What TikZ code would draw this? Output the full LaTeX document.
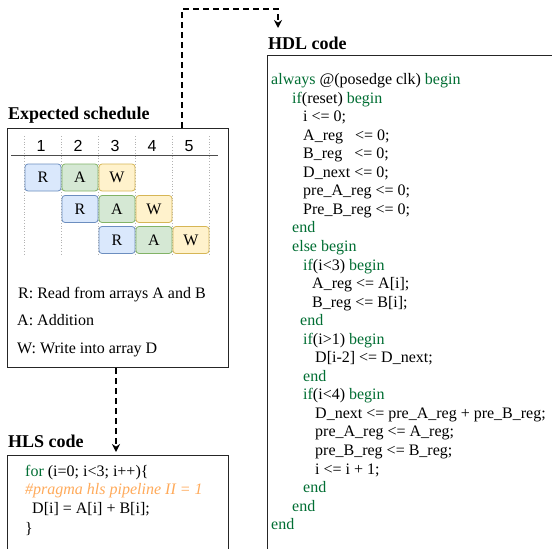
\documentclass[tikz,border=0pt]{standalone}
\usepackage{fontspec}
\setmainfont{Liberation Serif}
\newfontfamily\numfont{Liberation Sans}
\usetikzlibrary{arrows.meta,calc}
\definecolor{hdlgreen}{RGB}{0,110,51}
\definecolor{pragmaorange}{RGB}{255,170,90}
\definecolor{rfill}{HTML}{DAE8FC}\definecolor{rdraw}{HTML}{6C8EBF}
\definecolor{afill}{HTML}{D5E8D4}\definecolor{adraw}{HTML}{82B366}
\definecolor{wfill}{HTML}{FFF2CC}\definecolor{wdraw}{HTML}{D6B656}
\newcommand{\kw}[1]{\textcolor{hdlgreen}{#1}}
\begin{document}
\begin{tikzpicture}[x=1pt,y=-1pt,
  panel/.style={draw=black!85, line width=1pt, fill=white, anchor=north west, inner sep=0pt},
  title/.style={font=\fontsize{18}{20}\selectfont\bfseries, anchor=west, inner sep=0pt},
  code/.style={font=\fontsize{16}{18.5}\selectfont, anchor=base west, inner sep=0pt},
  cell/.style={rounded corners=3pt, line width=0.8pt, minimum width=36pt, minimum height=27pt, font=\fontsize{16}{18}\selectfont, inner sep=0pt},
  rcell/.style={cell, fill=rfill, draw=rdraw},
  acell/.style={cell, fill=afill, draw=adraw},
  wcell/.style={cell, fill=wfill, draw=wdraw},
  colnum/.style={font=\numfont\fontsize{16}{18}\selectfont, inner sep=0pt},
  gridline/.style={draw=black!30, dotted, line width=0.8pt},
  dasharrow/.style={line width=2pt, dash pattern=on 6pt off 4pt, -{Stealth[length=8pt,width=8pt]}}
]
\useasboundingbox (0,0) rectangle (552,549);
\clip (0,0) rectangle (552,549);

% panels
\node[panel, minimum width=221pt, minimum height=239pt] (sched) at (7,128) {};
\node[panel, minimum width=221pt, minimum height=120pt] (hls) at (7,455) {};
\node[panel, minimum width=320pt, minimum height=520pt] (hdl) at (267,55) {};

% titles
\node[title] (schedtitle) at (8,115) {Expected schedule};
\node[title] (hlstitle) at (8,441) {HLS code};
\node[title] (hdltitle) at (268,43) {HDL code};

% schedule grid
\foreach \x in {24.5,61.5,98.5,135.5,172.5,209.5}
  \draw[gridline] (\x,136) -- (\x,256);
\draw[black!70, line width=0.8pt] (11,155) -- (218,155);
\foreach \k in {1,...,5}
  \node[colnum] (col\k) at ({41+37*(\k-1)},146) {\k};

% schedule cells
\foreach \r/\y in {0/177.5,1/209,2/240}{
  \node[rcell] (R\r) at ({43+37*\r},\y) {R};
  \node[acell] (A\r) at ({80+37*\r},\y) {A};
  \node[wcell] (W\r) at ({117+37*\r},\y) {W};
}

% legend
\node[code] (legR) at (18,298.5) {R: Read from arrays A and B};
\node[code] (legA) at (17,325.5) {A: Addition};
\node[code] (legW) at (17,353.5) {W: Write into array D};

% HLS code
\node[code] (hls1) at (25,476) {\kw{for} (i=0; i<3; i++)\{};
\node[code, font=\fontsize{16}{18.5}\selectfont\itshape, text=pragmaorange] (hls2) at (25,494.5) {\#pragma hls pipeline II = 1};
\node[code] (hls3) at (32,513.5) {D[i] = A[i] + B[i];};
\node[code] (hls4) at (25,533) {\}};

% HDL code
\foreach \ind/\txt [count=\n from 0] in {
  0/{\kw{always} @(posedge clk) \kw{begin}},
  21/{\kw{if}(reset) \kw{begin}},
  32/{i <= 0;},
  32/{A\_reg\hspace{12pt}<= 0;},
  32/{B\_reg\hspace{12pt}<= 0;},
  32/{D\_next <= 0;},
  32/{pre\_A\_reg <= 0;},
  32/{Pre\_B\_reg <= 0;},
  21/{\kw{end}},
  21/{\kw{else begin}},
  32/{\kw{if}(i<3) \kw{begin}},
  41/{A\_reg <= A[i];},
  41/{B\_reg <= B[i];},
  29/{\kw{end}},
  32/{\kw{if}(i>1) \kw{begin}},
  44/{D[i-2] <= D\_next;},
  32/{\kw{end}},
  32/{\kw{if}(i<4) \kw{begin}},
  44/{D\_next <= pre\_A\_reg + pre\_B\_reg;},
  44/{pre\_A\_reg <= A\_reg;},
  44/{pre\_B\_reg <= B\_reg;},
  44/{i <= i + 1;},
  32/{\kw{end}},
  21/{\kw{end}},
  0/{\kw{end}}}
  \node[code] (hdl\n) at ({271+\ind},{84.5+18.55*\n}) {\txt};

% connectors
\coordinate (turn) at (278,9);
\coordinate (hdlin) at (278,28);
\coordinate (hlsin) at (116,452);
\draw[dasharrow] ([xshift=175pt]sched.north west) |- (turn) -- (hdlin);
\draw[dasharrow] ([xshift=109pt]sched.south west) -- (hlsin);
\end{tikzpicture}
\end{document}
